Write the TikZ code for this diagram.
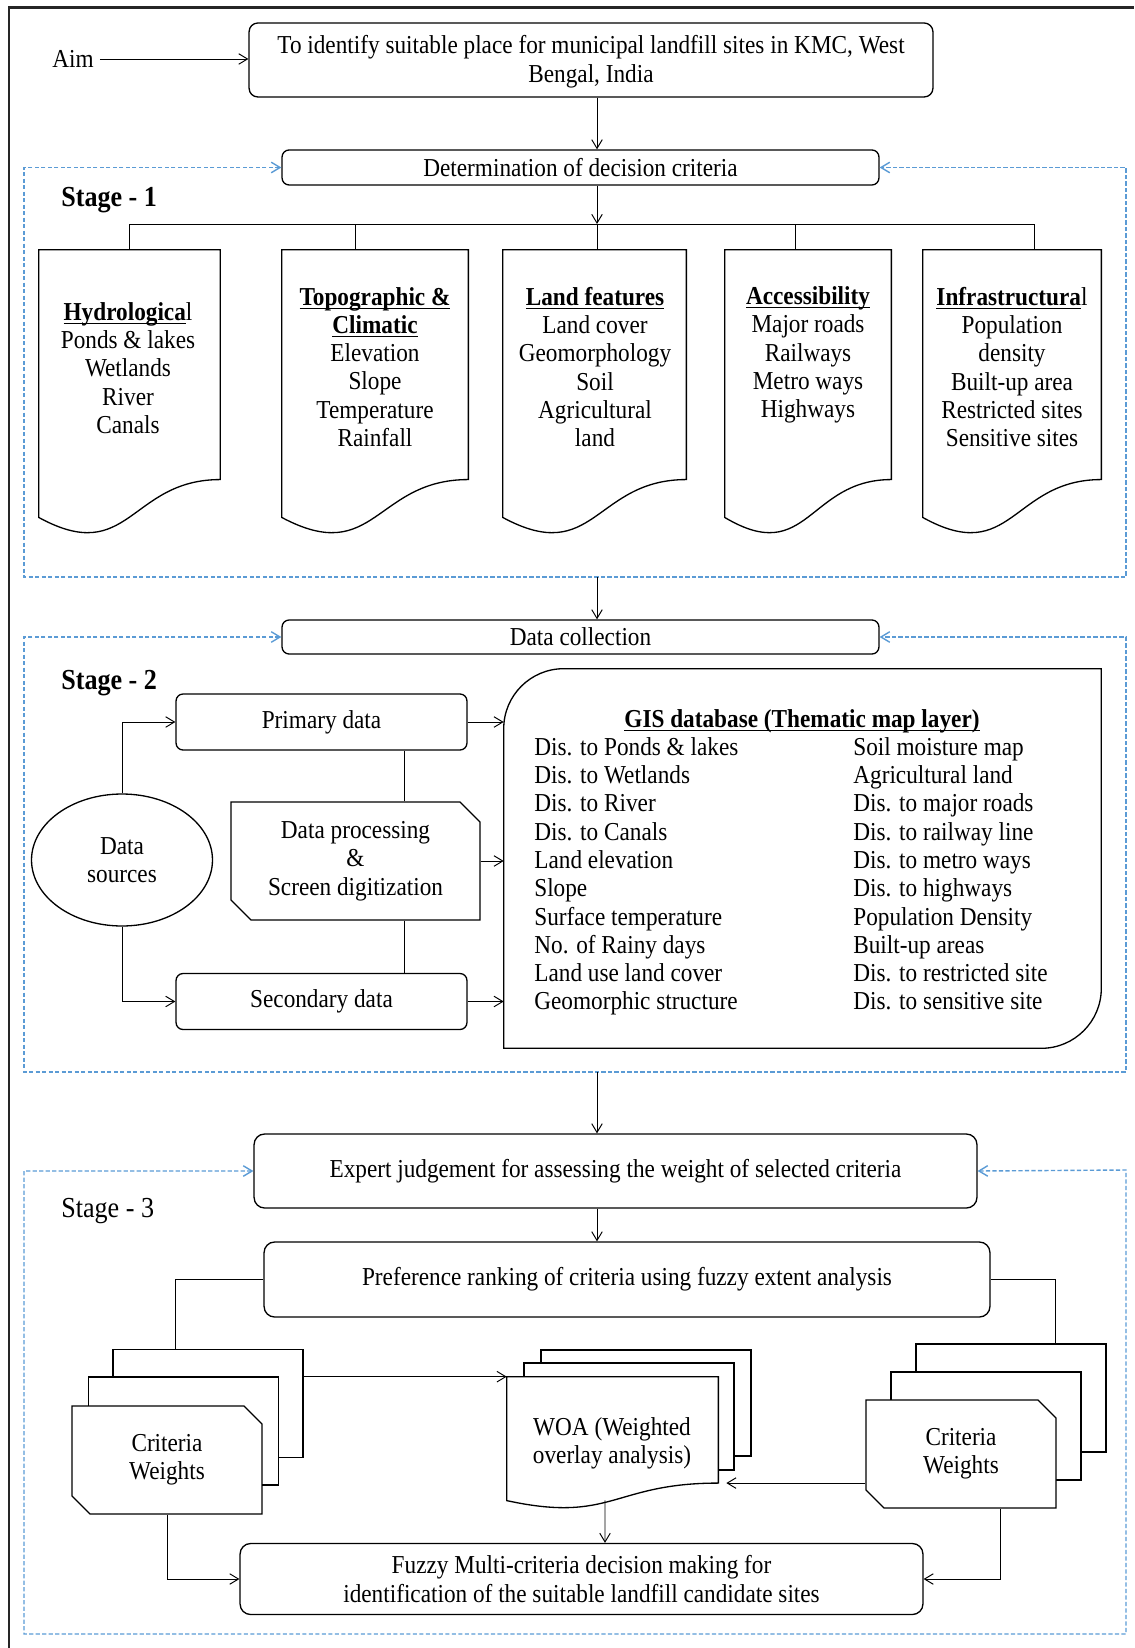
\documentclass[tikz,border=0pt]{standalone}
\usepackage{fontspec}
\setmainfont{Liberation Serif}[FakeStretch=0.9]
\usetikzlibrary{positioning,calc,shapes.misc,shapes.geometric,arrows.meta}
\definecolor{framblue}{RGB}{91,155,213}
\newcommand{\undl}[1]{\leavevmode\setbox0\hbox{#1}\rlap{\rule[-2.2pt]{\wd0}{0.8pt}}\box0}

\begin{document}
\begin{tikzpicture}[x=0.02cm, y=-0.02cm,
    font=\fontsize{14.7}{16.1}\selectfont,
    >={Straight Barb[length=5pt,width=6pt]},
    boxline/.style={draw, line width=0.75pt},
    rbox/.style={boxline, rounded corners=4pt, align=center, inner sep=0pt},
    link/.style={line width=0.55pt},
    stageframe/.style={draw=framblue, line width=0.8pt, dash pattern=on 2.4pt off 1.3pt},
    docarea/.style 2 args={minimum width=#1, minimum height=#2, inner sep=0pt},
    card/.style={boxline, fill=white, chamfered rectangle,
        chamfered rectangle corners={north east,south west},
        chamfered rectangle sep=0.18cm, minimum width=3.8cm,
        minimum height=2.16cm, inner sep=0pt, align=center},
    stagelbl/.style={anchor=west, inner sep=0pt,
        font=\fontsize{16.5}{19}\selectfont\bfseries}
]
    % 文档形状(底边波浪)
    \def\docpath#1{%
        \draw[boxline, fill=white] (#1.north west) -- (#1.north east)
            -- ($(#1.north east)!0.802!(#1.south east)$) coordinate (#1-rb)
            .. controls ($(#1.north)!0.802!(#1.south)$)
            and ($(#1.north)!1.1075!(#1.south)$)
            .. ($(#1.north west)!0.934!(#1.south west)$) -- cycle;}

    \useasboundingbox (0,0) rectangle (1134,1648);

    % 外框
    \draw[line width=1.4pt, black!85] (9,1648) -- (9,7.5) -- (1134,7.5);

    % 目标
    \node (aimlbl) at (73,59) {Aim};
    \node[rbox, minimum width=13.68cm, minimum height=1.48cm, rounded corners=5pt,
        text depth=0.3ex] (aimbox) at (591,60)
        {To identify suitable place for municipal landfill sites in KMC, West\\Bengal, India};
    \draw[link,->] (aimlbl.east) -- (aimlbl.east -| aimbox.west);

    \coordinate (ax) at (597,0);
    \node[rbox, minimum width=11.94cm, minimum height=0.70cm]
        (det) at (580.5,167.5) {Determination of decision criteria};
    \draw[link,->] (aimbox.south -| ax) -- (det.north -| ax);

    % 第一阶段: 五个准则
    \node[docarea={3.62cm}{5.72cm}] (hydro) at (129.5,393) {};
    \node[docarea={3.72cm}{5.72cm}] (topo) at (375,393) {};
    \node[docarea={3.66cm}{5.72cm}] (landf) at (594.5,393) {};
    \node[docarea={3.32cm}{5.72cm}] (access) at (808,393) {};
    \node[docarea={3.56cm}{5.72cm}] (infra) at (1012,393) {};
    \foreach \n in {hydro,topo,landf,access,infra} {\docpath{\n}}

    \node[align=center] (hydrotxt) at (128,368)
        {\undl{\textbf{Hydrologica}}l\\Ponds \& lakes\\Wetlands\\River\\Canals};
    \node[align=center] (topotxt) at (375,367)
        {\undl{\textbf{Topographic \&}}\\\undl{\textbf{Climatic}}\\Elevation\\Slope\\Temperature\\Rainfall};
    \node[align=center] (landtxt) at (595,367)
        {\undl{\textbf{Land features}}\\Land cover\\Geomorphology\\Soil\\Agricultural\\land};
    \node[align=center] (acctxt) at (808,355)
        {\undl{\textbf{Accessibility}}\\Major roads\\Railways\\Metro ways\\Highways};
    \node[align=center] (inftxt) at (1012,367)
        {\undl{\textbf{Infrastructura}}l\\Population\\density\\Built-up area\\Restricted sites\\Sensitive sites};

    \coordinate (split) at (597,224);
    \draw[link,->] (det.south -| ax) -- (split);
    \draw[link] (hydro.north |- split) -- ($(infra.north |- split)+(22,0)$);
    \foreach \n/\dx in {hydro/0,topo/-20,landf/2.5,access/-13,infra/22}
        \draw[link] ($(\n.north)+(\dx,0)$) -- ($(\n.north |- split)+(\dx,0)$);

    \node[stagelbl] (st1) at (61,200) {Stage - 1};
    \coordinate (f1sw) at (24,577);
    \coordinate (f1ne) at (1126,167.5);
    \draw[stageframe,<->] (det.west) -| (f1sw) -| (f1ne) -- (det.east);

    % 第二阶段: 数据
    \node[rbox, minimum width=11.94cm, minimum height=0.68cm]
        (dcol) at (580.5,637) {Data collection};
    \draw[link,->] (ax |- f1sw) -- (dcol.north -| ax);

    \node[rbox, minimum width=5.82cm, minimum height=1.12cm] (prim) at (321.5,722) {Primary data};
    \node[rbox, minimum width=5.82cm, minimum height=1.12cm] (sec) at (321.5,1001.5) {Secondary data};
    \node[ellipse, boxline, minimum width=3.62cm, minimum height=2.64cm, align=center, inner sep=0pt]
        (src) at (122,860) {Data\\sources};
    \node[chamfered rectangle, chamfered rectangle corners={north east,south west},
        chamfered rectangle sep=0.2cm, boxline, minimum width=4.98cm, minimum height=2.36cm,
        align=center, inner sep=0pt]
        (dproc) at (355.5,861) {Data processing\\\&\\Screen digitization};

    % GIS 数据库(两角圆弧)
    \node[docarea={11.94cm}{7.58cm}] (gis) at (802.5,858.5) {};
    \draw[boxline] ([yshift=-1.2cm]gis.north west) arc[start angle=180, end angle=90, radius=1.2cm]
        -- (gis.north east) -- ([yshift=1.2cm]gis.south east)
        arc[start angle=0, end angle=-90, radius=1.2cm] -- (gis.south west) -- cycle;
    \node[font=\fontsize{14.7}{16.1}\selectfont\bfseries] (gistitle) at (802,721)
        {\undl{GIS database (Thematic map layer)}};
    \node[anchor=north west, align=left, inner sep=0pt] (gisL) at (534,737)
        {Dis. to Ponds \& lakes\\Dis. to Wetlands\\Dis. to River\\Dis. to Canals\\Land elevation\\Slope\\Surface temperature\\No. of Rainy days\\Land use land cover\\Geomorphic structure};
    \node[anchor=north west, align=left, inner sep=0pt] (gisR) at (853,737)
        {Soil moisture map\\Agricultural land\\Dis. to major roads\\Dis. to railway line\\Dis. to metro ways\\Dis. to highways\\Population Density\\Built-up areas\\Dis. to restricted site\\Dis. to sensitive site};

    \draw[link,->] (src.north) |- (prim.west);
    \draw[link,->] (src.south) |- (sec.west);
    \coordinate (dptop) at ($(dproc.north)+(48.5,0)$);
    \coordinate (dpbot) at ($(dproc.south)+(48.5,0)$);
    \draw[link] (dptop) -- (dptop |- prim.south);
    \draw[link] (dpbot) -- (dpbot |- sec.north);
    \draw[link,->] (prim.east) -- (prim.east -| gis.west);
    \draw[link,->] (dproc.east) -- (dproc.east -| gis.west);
    \draw[link,->] (sec.east) -- (sec.east -| gis.west);

    \node[stagelbl] (st2) at (61,683) {Stage - 2};
    \coordinate (f2sw) at (24,1072);
    \coordinate (f2ne) at (1126,637);
    \draw[stageframe,<->] (dcol.west) -| (f2sw) -| (f2ne) -- (dcol.east);

    % 第三阶段: 权重与叠加
    \node[rbox, minimum width=14.46cm, minimum height=1.48cm, rounded corners=6pt]
        (expert) at (615.5,1171) {Expert judgement for assessing the weight of selected criteria};
    \draw[link,->] (ax |- f2sw) -- (expert.north -| ax);
    \node[rbox, minimum width=14.52cm, minimum height=1.50cm, rounded corners=6pt]
        (pref) at (627,1279.5) {Preference ranking of criteria using fuzzy extent analysis};
    \draw[link,->] (expert.south -| ax) -- (pref.north -| ax);

    % 左侧权重卡片
    \node[card] (cwc) at (208,1403.5) {};
    \node[card] (cwb) at (183.5,1431) {};
    \node[card] (cwa) at (167,1460) {Criteria\\Weights};
    % 右侧权重卡片
    \node[card] (rcwc) at (1011,1398) {};
    \node[card] (rcwb) at (986,1426) {};
    \node[card] (rcwa) at (961,1454) {Criteria\\Weights};

    % 叠加分析
    \node[boxline, fill=white, minimum width=4.2cm, minimum height=2.12cm, inner sep=0pt]
        (woac) at (646,1403) {};
    \node[boxline, fill=white, minimum width=4.2cm, minimum height=2.14cm, inner sep=0pt]
        (woab) at (629,1416.5) {};
    \node[docarea={4.22cm}{2.64cm}] (woa) at (612.5,1443) {};
    \docpath{woa}
    \node[align=center] (woatxt) at (612,1443) {WOA (Weighted\\overlay analysis)};

    \node[rbox, minimum width=13.66cm, minimum height=1.42cm, rounded corners=6pt]
        (fuzzy) at (581.5,1579)
        {Fuzzy Multi-criteria decision making for\\identification of the suitable landfill candidate sites};

    \draw[link] (pref.west) -| ($(cwc.north)+(-33,0)$);
    \draw[link] (pref.east) -| ($(rcwc.north)+(44,0)$);
    \draw[link,->] (cwc.east |- woa.north west) -- (woa.north west);
    \draw[link,->] (rcwa.west |- woa-rb) -- ([xshift=0.16cm]woa-rb);
    \draw[link,->] ($(woa.north)!0.933!(woa.south)+(-7.5,0)$) -- ($(woa.south |- fuzzy.north)+(-7.5,0)$);
    \draw[link,->] (cwa.south) |- (fuzzy.west);
    \draw[link,->] ($(rcwa.south)+(39,0)$) |- (fuzzy.east);

    \node[stagelbl, font=\fontsize{16.5}{19}\selectfont] (st3) at (61,1211) {Stage - 3};
    \coordinate (f3sw) at (24,1634);
    \coordinate (f3ne) at (1126,1170);
    \draw[stageframe,<->] (expert.west) -| (f3sw) -| (f3ne) -- (expert.east);
\end{tikzpicture}
\end{document}
